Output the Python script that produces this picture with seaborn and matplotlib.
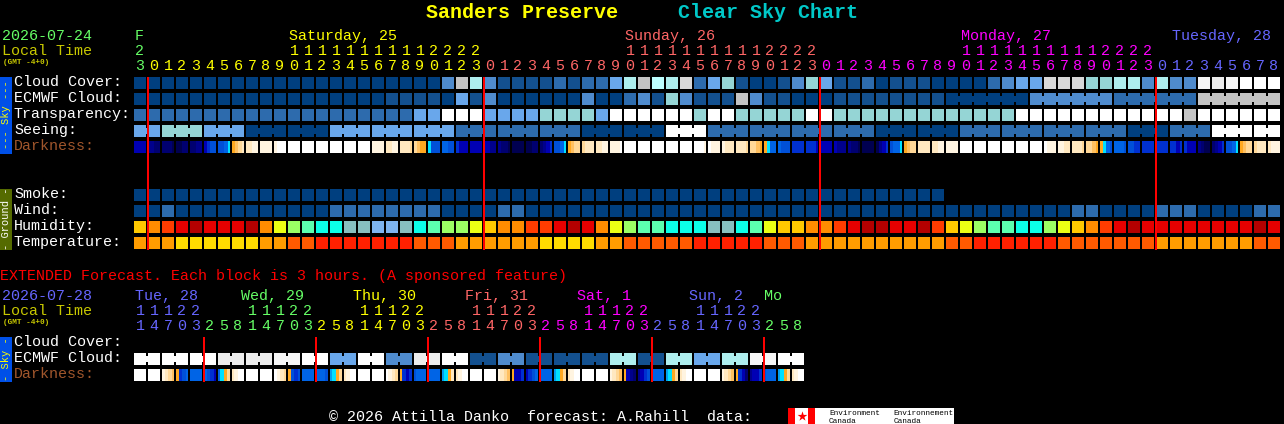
import numpy as np
import matplotlib
matplotlib.use("Agg")
import matplotlib.pyplot as plt
from matplotlib.colors import ListedColormap
from matplotlib.patches import Rectangle
import seaborn as sns

# -----------------------------
# DATA (one character per block)
# -----------------------------
cloud_cover = "0000000000000000000000" "386311112122468769245100135411" "201110000234499955663633babccc"
ecmwf_cloud = "000000000000000000" "1111" "041300000030023153111831100011" "111111" "000000" "333333" "222222" "888888"
transparency = "22222222222222222222" "44" "ccc44445555" "4cccccc5cc55555cc55" "55555555555" "cccccccccccc" "8" "cccccc"
seeing = "44" "555" "444" "000000" "444444444" "222222222" "000000" "ccc" "222222222222" "000000" "222222222222" "000" "222" "ccccc"
smoke = "0000000000000000000000000000000000000000000000000000000000" "                        "
wind = "002" "00000000000" "22222222" "0000" "22" "000000000000000000000000" "000000000000000" "22" "0000" "222" "0000" "22"
humidity = "ABCDEDDDEBFGHIIJJKKJIH" "GGFABBCCDEDBFGHHIIIJJIHFAABBCD" "EEDDECAFGHHIIGFABCDEDDDDDDDDED"
temperature = "OOOYYYYYYOORRSSSSSSSRRR" "OOOOOOYYYYOORRRRRSSSSSRRR" "OOOOOOOOOORRSSSSSSRRRRRRROOOOOOORR"

# darkness has four samples per block
darkness = [
    "3333", "2211", "1110", "0011", "1122", "3455", "5568", "9abc", "ccdd", "dddd", "deee",
    "eeee", "eeee", "eeee", "eeee", "eeee", "eeee", "dddd", "ccdd", "cccb", "ba99", "8555",
    "6655", "4333", "3333", "3322", "2110", "0000", "0011", "1234", "5568", "9abb", "bccc",
    "ccdd", "ddde", "eeee", "eeee", "eeee", "eeee", "eeee", "eeed", "eddd", "dccc", "cccb",
    "bba9", "9866", "6555", "4444", "4443", "3333", "3222", "2110",
    "0000", "0234", "5668", "9abb", "cccc", "ccdd", "dddd", "eeee", "eeee", "eeee", "eeee",
    "eeee", "eeee", "eddd", "ddcc", "cccb", "bba9", "9865", "6665", "5544", "4444", "4444",
    "4434", "4333", "2100", "1234", "5568", "9abb", "bccc", "cddd",
]

ext_ecmwf = "cc" "cc" "cc" "aa" "aa" "bb" "cc" "44" "cc" "33" "aa" "cc" "11" "33" "11" "11" "11" "66" "11" "66" "44" "66" "bb" "cc"
ext_darkness = [
    "eeee", "eeee", "dcba", "9456", "6666", "6543", "689b", "cdee",
    "eeee", "eeee", "edcb", "9545", "6666", "6665", "789b", "cdee",
    "eeee", "eeee", "edcb", "9434", "5666", "6666", "789c", "cdee",
    "eeee", "eeee", "dcba", "9334", "3456", "6666", "789b", "cdee",
    "eeee", "eeee", "dcba", "9321", "2345", "6666", "789b", "cdee",
    "eeee", "eeee", "dcba", "9431", "2334", "5666", "789b", "cdee",
]

sky_colors = {"0": "#003F7F", "1": "#13508F", "2": "#2D6BAD", "3": "#4F8BCD", "4": "#69A7EB",
              "5": "#95D5D5", "6": "#AEEEEE", "7": "#BDFFFF", "8": "#C4C4C4", "9": "#D8D8D8",
              "a": "#ECECEC", "b": "#F6F6F6", "c": "#FFFFFF"}
humidity_colors = {"A": "#FFC800", "B": "#FF8C00", "C": "#FF3C00", "D": "#E60000", "E": "#B40000",
                   "F": "#EBFF14", "G": "#9BFF64", "H": "#5CFFAF", "I": "#0CFFE8", "J": "#87BFBF",
                   "K": "#7FB4F0"}
temp_colors = {"Y": "#FFDC00", "O": "#FF9C00", "R": "#FF5A00", "S": "#FF2000"}
dark_colors = {"0": "#000050", "1": "#000070", "2": "#00008C", "3": "#0000B4", "4": "#0030D0",
               "5": "#0050D8", "6": "#0064E6", "7": "#00A0F0", "8": "#00E0FF", "9": "#FFA820",
               "a": "#FFC060", "b": "#FFD898", "c": "#FFE8C0", "d": "#FFF4E0", "e": "#FFFFFF"}

GREEN, YELLOW, RED, MAGENTA, BLUE = "#66FF66", "#FFFF00", "#FF6666", "#FF00FF", "#6666FF"

hours = "3" "012345678901234567890123" "012345678901234567890123" "012345678901234567890123" "012345678"
tens = "2" "          11111111112222" "          11111111112222" "          11111111112222" "         "
hour_colors = [GREEN] + [YELLOW] * 24 + [RED] * 24 + [MAGENTA] * 24 + [BLUE] * 9
day_labels = [("F", 0, GREEN), ("Saturday, 25", 11, YELLOW), ("Sunday, 26", 35, RED),
              ("Monday, 27", 59, MAGENTA), ("Tuesday, 28", 74.1, BLUE)]
midnights = [1, 25, 49, 73]

ext_hours = "14703" "25814703" "25814703" "25814703" "25814703" "25814703" "258"
ext_tens = "11122" "   11122" "   11122" "   11122" "   11122" "   11122" "   "
ext_hour_colors = [BLUE] * 5 + [GREEN] * 8 + [YELLOW] * 8 + [RED] * 8 + [MAGENTA] * 8 + [BLUE] * 8 + [GREEN] * 3
ext_day_labels = [("Tue, 28", 135, BLUE), ("Wed, 29", 241, GREEN), ("Thu, 30", 353, YELLOW),
                  ("Fri, 31", 465, RED), ("Sat, 1", 577, MAGENTA), ("Sun, 2", 689, BLUE), ("Mo", 764, GREEN)]
ext_midnights = [5, 13, 21, 29, 37, 45]

# -----------------------------
# SETUP
# -----------------------------
sns.set_theme(style="dark", rc={"figure.facecolor": "black", "axes.facecolor": "black"})
plt.rcParams["font.family"] = ["Liberation Mono"]

W, H = 1284, 424
LEFT, PITCH, GAP = 134, 14, 2 * 72 / 100
fig = plt.figure(figsize=(W / 100, H / 100), dpi=100)
fig.patch.set_facecolor("black")


def box(x, y, w, h):
    return fig.add_axes([x / W, 1 - (y + h) / H, w / W, h / H])


def blocks(y, codes, colors, bridges=(), per_block=1):
    # one heatmap row, black gaps drawn over it, bridges are the column edges joined in the middle
    keys = list(colors)
    flat = "".join(codes)
    values = np.array([[keys.index(c) if c in colors else np.nan for c in flat]])
    count = len(flat) // per_block
    ax = box(LEFT - 1, y, PITCH * count, 12)
    sns.heatmap(values, ax=ax, cmap=ListedColormap(list(colors.values())), vmin=-0.5,
                vmax=len(keys) - 0.5, cbar=False, xticklabels=False, yticklabels=False)
    ax.vlines(np.arange(count + 1) * per_block, 0, 1, color="black", lw=GAP, zorder=5)
    for edge in bridges:
        if flat[edge - 1] == flat[edge] and flat[edge] in colors:
            ax.vlines(edge, 0.22, 0.78, color=colors[flat[edge]], lw=GAP, zorder=6)


# -----------------------------
# BLOCK ROWS
# -----------------------------
blocks(77, cloud_cover, sky_colors)
blocks(93, ecmwf_cloud, sky_colors, bridges=range(59, 82))
blocks(109, transparency, sky_colors)
blocks(125, seeing, sky_colors, bridges=[i for i in range(1, 82) if (i - 2) % 3 != 0])
blocks(141, darkness, dark_colors, per_block=4)
blocks(189, smoke, sky_colors)
blocks(205, wind, sky_colors)
blocks(221, humidity, humidity_colors)
blocks(237, temperature, temp_colors)
blocks(353, ext_ecmwf, sky_colors, bridges=range(1, 48, 2))
blocks(369, ext_darkness, dark_colors, per_block=4)

# -----------------------------
# TEXT AND OVERLAYS
# -----------------------------
page = fig.add_axes([0, 0, 1, 1], facecolor="none")
page.set_xlim(0, W)
page.set_ylim(H, 0)
page.axis("off")

page.vlines([LEFT + PITCH * m for m in midnights], 77, 250, color="#FF0000", lw=GAP)
page.vlines([LEFT + PITCH * m for m in ext_midnights], 337, 382, color="#FF0000", lw=GAP)


def label(x, y, s, color="white", size=10.8, **kw):
    page.text(x, y, s, color=color, fontsize=size, ha=kw.pop("ha", "left"), va="baseline", **kw)


label(426, 18, "Sanders Preserve", YELLOW, 14.4, fontweight="bold")
label(678, 18, "Clear Sky Chart", "#00C8C8", 14.4, fontweight="bold")

label(2, 40, "2026-07-24", GREEN)
label(2, 55, "Local Time", "#C8C800")
label(3, 64, "(GMT -4+0)", "#C8C800", 5.6, fontweight="bold")
for text, col, color in day_labels:
    label(LEFT + 1 + PITCH * col, 40, text, color)
for col, (unit, ten, color) in enumerate(zip(hours, tens, hour_colors)):
    label(LEFT + 6 + PITCH * col, 70, unit, color, ha="center")
    if ten != " ":
        label(LEFT + 6 + PITCH * col, 55, ten, color, ha="center")

for y, text in [(86, "Cloud Cover:"), (102, "ECMWF Cloud:"), (118, "Transparency:"), (134, "Seeing:"),
                (198, "Smoke:"), (214, "Wind:"), (230, "Humidity:"), (246, "Temperature:"),
                (346, "Cloud Cover:"), (362, "ECMWF Cloud:")]:
    label(14, y, text)
label(14, 150, "Darkness:", "#A0562C")
label(14, 378, "Darkness:", "#A0562C")

label(0, 280, "EXTENDED Forecast. Each block is 3 hours. (A sponsored feature)", "#FF0000")
label(2, 300, "2026-07-28", BLUE)
label(2, 315, "Local Time", "#C8C800")
label(3, 324, "(GMT -4+0)", "#C8C800", 5.6, fontweight="bold")
for text, x, color in ext_day_labels:
    label(x, 300, text, color)
for col, (unit, ten, color) in enumerate(zip(ext_hours, ext_tens, ext_hour_colors)):
    label(LEFT + 6 + PITCH * col, 330, unit, color, ha="center")
    if ten != " ":
        label(LEFT + 6 + PITCH * col, 315, ten, color, ha="center")

# side strips
page.add_patch(Rectangle((0, 77), 12, 77, color="#0050E8", lw=0))
page.add_patch(Rectangle((0, 189), 12, 61, color="#556B00", lw=0))
page.add_patch(Rectangle((0, 337), 12, 45, color="#0050E8", lw=0))
page.text(6, 115, "--- Sky ---", color=YELLOW, fontsize=7.5, rotation=90, ha="center", va="center")
page.text(6, 219, "- Ground -", color="white", fontsize=7.5, rotation=90, ha="center", va="center")
page.text(6, 359, "- Sky -", color=YELLOW, fontsize=7.5, rotation=90, ha="center", va="center")

# footer
label(329, 421, "\u00a9 2026 Attilla Danko  forecast: A.Rahill  data:")
page.add_patch(Rectangle((788, 408), 166, 16, color="white", lw=0))
page.add_patch(Rectangle((788, 408), 7, 16, color="#FF0000", lw=0))
page.add_patch(Rectangle((808, 408), 7, 16, color="#FF0000", lw=0))
page.scatter([801.5], [416], marker="*", s=55, color="#FF0000", linewidths=0)
label(829, 415, "Environment", "black", 5.6)
label(829, 423, "Canada", "black", 5.6)
label(893.5, 415, "Environnement", "black", 5.6)
label(893.5, 423, "Canada", "black", 5.6)

plt.savefig("out.png", dpi=100, facecolor="black")
plt.close()
